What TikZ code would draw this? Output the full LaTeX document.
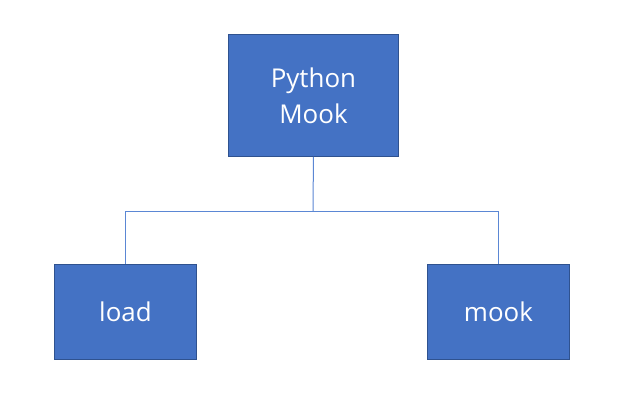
\documentclass[tikz,border=0pt]{standalone}
\usepackage{fontspec}
\setmainfont{Open Sans}
\definecolor{boxfill}{HTML}{4472C4}
\definecolor{boxline}{HTML}{2F528F}
\definecolor{linkc}{HTML}{5B87D4}
\begin{document}
\begin{tikzpicture}[x=1bp,y=-1bp,
  box/.style={draw=boxline,line width=0.9bp,fill=boxfill,text=white,align=center,
    font=\fontsize{26}{36}\selectfont,inner sep=0pt,anchor=north west},
  link/.style={draw=linkc,line width=1bp}]
\useasboundingbox[fill=white] (0,0) rectangle (626,409);
\node[box,minimum width=170bp,minimum height=122bp] (top) at (228,34) {Python\\Mook};
\node[box,minimum width=142bp,minimum height=95bp] (load) at (54,264) {load};
\node[box,minimum width=142bp,minimum height=95bp] (mook) at (427,264) {mook};
\coordinate (j) at (313,211);
\draw[link] (top.south) -- (j);
\draw[link] (j) -| (load.north);
\draw[link] (j) -| (mook.north);
\end{tikzpicture}
\end{document}
